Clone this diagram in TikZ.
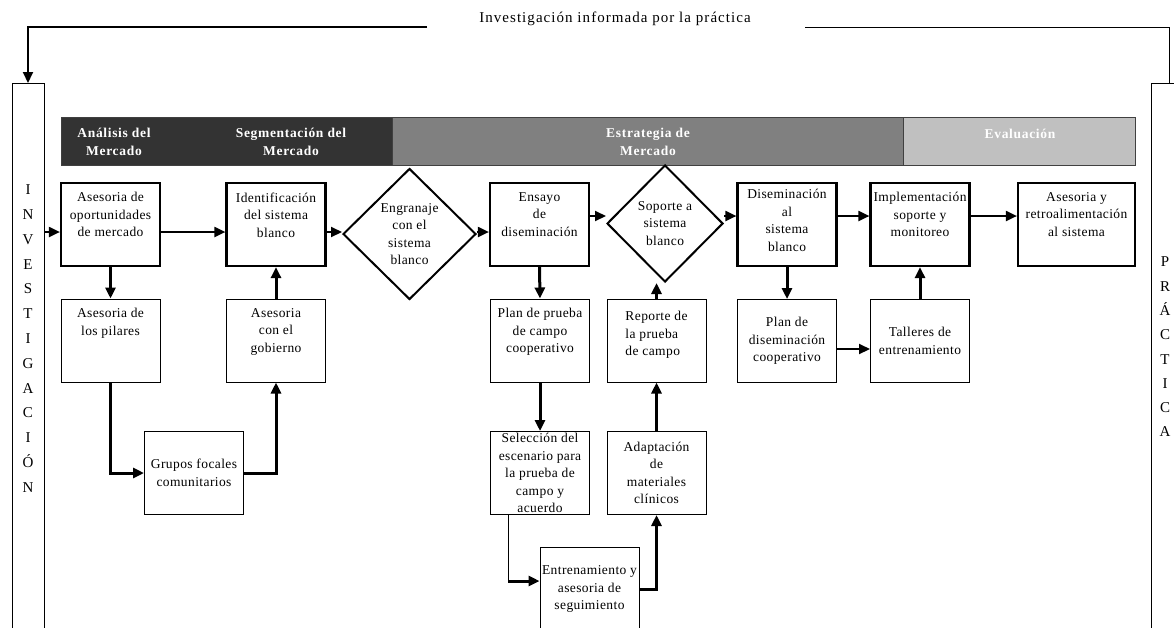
\documentclass[tikz,border=0pt]{standalone}
\usepackage{fontspec}
\setmainfont{Liberation Serif}
\newfontfamily\boxf[LetterSpace=3]{Liberation Serif}
\newfontfamily\hdrf[LetterSpace=5]{Liberation Serif}
\newfontfamily\ttlf[LetterSpace=7]{Liberation Serif}
\usetikzlibrary{arrows.meta,shapes.geometric}
\definecolor{hdark}{HTML}{333333}
\definecolor{hmid}{HTML}{808080}
\definecolor{hlight}{HTML}{C0C0C0}
\newcommand{\bxfont}{\boxf\fontsize{13.5}{17.5}\selectfont}
\newcommand{\TopTxt}[3][64pt]{\parbox[c][#1][t]{#2}{\centering #3}}
\tikzset{
  tbox/.style={draw, line width=2.2pt, inner sep=0pt, minimum width=99pt, minimum height=83pt, align=center, font=\bxfont},
  nbox/.style={draw, line width=1pt, inner sep=0pt, minimum width=99pt, minimum height=83pt, align=center, font=\bxfont},
  dia/.style={draw, diamond, line width=2pt, inner sep=0pt, align=center, font=\bxfont},
  harr/.style={line width=2pt, -{Triangle[length=11pt,width=10pt]}},
  varr/.style={line width=3pt, -{Triangle[length=11pt,width=10pt]}},
  thinline/.style={line width=1pt},
  hbar/.style={draw=black!75, line width=1pt, inner sep=0pt, minimum height=48pt, anchor=north west},
  htext/.style={text=white, font=\hdrf\bfseries\fontsize{13.5}{18.5}\selectfont, align=center},
  sidebar/.style={draw, line width=1pt, inner sep=0pt, anchor=north},
  letters/.style={font=\fontsize{15}{24.8}\selectfont, align=center}
}
\begin{document}
\begin{tikzpicture}[x=1pt,y=-1pt]
\useasboundingbox (0,0) rectangle (1174,627);

% title and side bars
\node[font=\ttlf\fontsize{15}{16}\selectfont] (title) at (615,19) {Investigación informada por la práctica};
\node[sidebar, minimum width=32pt, minimum height=560pt] (invbar) at (28,83) {};
\node[letters] (invtxt) at (28,338.5) {I\\N\\V\\E\\S\\T\\I\\G\\A\\C\\I\\Ó\\N};
\node[sidebar, minimum width=36pt, minimum height=560pt] (pracbar) at (1169,83) {};
\node[letters, font=\fontsize{15}{24.3}\selectfont] (practxt) at (1165,347) {P\\R\\Á\\C\\T\\I\\C\\A};
\coordinate (tl) at (427,27);
\coordinate (tr) at (805,27);
\draw[line width=2pt, -{Triangle[length=11pt,width=10pt]}] (tl) -| (invbar.north);
\draw[line width=1pt] (tr) -| (pracbar.north);

% header bar
\node[hbar, fill=hdark, minimum width=331pt] (h1) at (61,117) {};
\node[hbar, fill=hmid, minimum width=511pt] (h2) at (392,117) {};
\node[hbar, fill=hlight, minimum width=232pt] (h3) at (903,117) {};
\node[htext] (ht1) at (114,142) {Análisis del\\Mercado};
\node[htext] (ht2) at (291,142) {Segmentación del\\Mercado};
\node[htext] (ht3) at (648,142) {Estrategia de\\Mercado};
\node[htext] (ht4) at (1020,134) {Evaluación};

% row 1
\node[tbox] (A1) at (110.5,224.5) {\TopTxt{98pt}{Asesoria de\\oportunidades\\de mercado}};
\node[tbox] (A2) at (276,224.5) {\TopTxt{98pt}{Identificación\\del sistema\\blanco}};
\node[dia, minimum width=133pt, minimum height=131pt] (D1) at (409.5,234) {Engranaje\\con el\\sistema\\blanco};
\node[tbox] (A3) at (539.5,224.5) {\TopTxt{98pt}{Ensayo\\de\\diseminación}};
\node[dia, minimum width=116pt, minimum height=117pt] (D2) at (665,223.5) {Soporte a\\sistema\\blanco};
\node[tbox] (A4) at (787,224.5) {\TopTxt[70pt]{98pt}{Diseminación\\al\\sistema\\blanco}};
\node[tbox] (A5) at (920,224.5) {\TopTxt{98pt}{Implementación\\soporte y\\monitoreo}};
\node[tbox, minimum width=117pt] (A6) at (1076.5,224.5) {\TopTxt{115pt}{Asesoria y\\retroalimentación\\al sistema}};

% row 2
\node[nbox] (B1) at (110.5,340.5) {\TopTxt{98pt}{Asesoria de\\los pilares}};
\node[nbox] (B2) at (276,340.5) {\TopTxt{98pt}{Asesoria\\con el\\gobierno}};
\node[nbox] (B3) at (540,340.5) {\TopTxt{98pt}{Plan de prueba\\de campo\\cooperativo}};
\node[nbox] (B4) at (656.5,340.5) {\TopTxt{98pt}{\begin{tabular}{@{}l@{}}Reporte de\\la prueba\\de campo\end{tabular}}};
\node[nbox] (B5) at (787,341) {Plan de\\diseminación\\cooperativo};
\node[nbox] (B6) at (920,341) {Talleres de\\entrenamiento};

% row 3 and 4
\node[nbox] (C1) at (194,473) {Grupos focales\\comunitarios};
\node[nbox] (C2) at (540,473) {Selección del\\escenario para\\la prueba de\\campo y\\acuerdo};
\node[nbox] (C3) at (656.5,473) {Adaptación\\de\\materiales\\clínicos};
\node[nbox] (E1) at (589.5,589) {Entrenamiento y\\asesoria de\\seguimiento};

% row 1 connectors
\coordinate (r1) at (0,232);
\coordinate (r2) at (0,216);
\draw[harr] (invbar.east |- r1) -- (A1.west |- r1);
\draw[harr] (A1.east |- r1) -- (A2.west |- r1);
\draw[harr] (A2.east |- r1) -- (D1.west |- r1);
\draw[harr] (D1.east |- r1) -- (A3.west |- r1);
\draw[harr] (A3.east |- r2) -- (D2.west |- r2);
\draw[harr] (D2.east |- r2) -- (A4.west |- r2);
\draw[harr] (A4.east |- r2) -- (A5.west |- r2);
\draw[harr] (A5.east |- r2) -- (A6.west |- r2);

% left group
\draw[varr] (A1.south) -- (B1.north);
\draw[varr] (B1.south) |- (C1.west);
\draw[varr] (C1.east) -| (B2.south);
\draw[varr] (B2.north) -- (A2.south);

% middle group
\draw[varr] (A3.south) -- (B3.north);
\draw[varr] (B3.south) -- (C2.north);
\path ([xshift=-32pt]C2.south) coordinate (c2s);
\path ([yshift=8pt]E1.west) coordinate (e1w);
\draw[thinline] (c2s) -- (c2s |- e1w);
\draw[varr] (c2s |- e1w) -- (e1w);
\draw[varr] (E1.east) -| (C3.south);
\draw[varr] (C3.north) -- (B4.south);
\draw[varr] (B4.north) -- (B4.north |- D2.south);

% right group
\draw[varr] (A4.south) -- (B5.north);
\draw[harr] ([yshift=-8pt]B5.east) -- ([yshift=-8pt]B6.west);
\draw[varr] (B6.north) -- (A5.south);
\end{tikzpicture}
\end{document}
